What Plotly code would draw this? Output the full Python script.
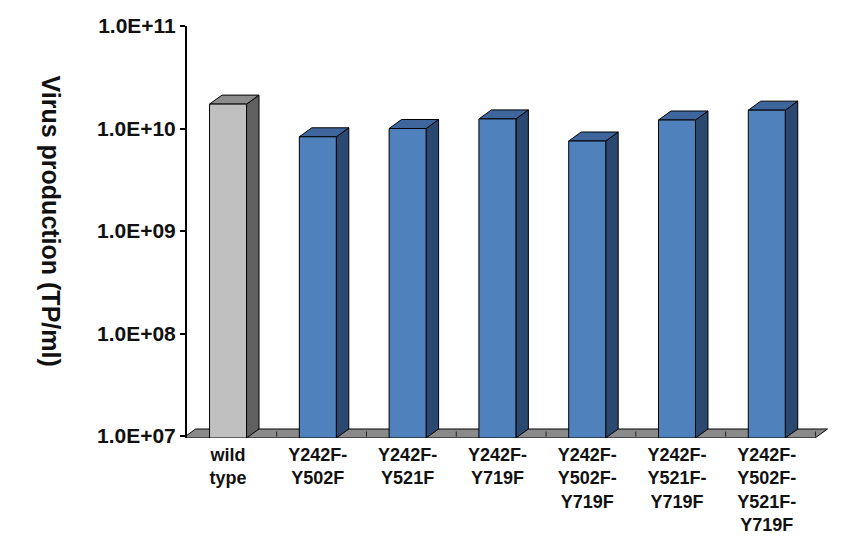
import plotly.graph_objects as go

# ---- data ----
categories = ["wild<br>type", "Y242F-<br>Y502F", "Y242F-<br>Y521F", "Y242F-<br>Y719F",
              "Y242F-<br>Y502F-<br>Y719F", "Y242F-<br>Y521F-<br>Y719F",
              "Y242F-<br>Y502F-<br>Y521F-<br>Y719F"]
values = [1.73e10, 8.3e9, 1.0e10, 1.24e10, 7.55e9, 1.21e10, 1.51e10]
tick_vals = [1e7, 1e8, 1e9, 1e10, 1e11]
tick_text = ["1.0E+07", "1.0E+08", "1.0E+09", "1.0E+10", "1.0E+11"]

front_colors = ["#C0C0C0"] + ["#4F81BD"] * 6
top_colors = ["#8C8C8C"] + ["#3E669C"] * 6
side_colors = ["#606060"] + ["#2B4870"] * 6

# ---- geometry (3-D look) ----
PLOT_H = 412
PX_PER_DEC = 102.5
Y_BOTTOM_LOG = 11 - PLOT_H / PX_PER_DEC
DX = 0.139            # depth offset in category units
DYL = 9 / PX_PER_DEC  # depth offset in decades
HALF = 0.206
base = 10 ** Y_BOTTOM_LOG
k = 10 ** DYL
FLOOR_L, FLOOR_R = -0.5, 6.537

fig = go.Figure()

def poly(xs, ys, fill, lw=1.0):
    fig.add_trace(go.Scatter(x=xs + [xs[0]], y=ys + [ys[0]], mode="lines", fill="toself",
                             fillcolor=fill, line=dict(color="black", width=lw),
                             hoverinfo="skip", showlegend=False))

# floor
poly([FLOOR_L, FLOOR_R, FLOOR_R + DX, FLOOR_L + DX],
     [base, base, base * k, base * k], "#8A8A8A")

# floor tick marks at category boundaries
tx, ty = [], []
for i in range(len(categories)):
    xb = i + 0.5 + DX * 0.3
    tx += [xb, xb, None]
    ty += [base * 10 ** (1.5 / PX_PER_DEC), base * 10 ** (6.5 / PX_PER_DEC), None]
fig.add_trace(go.Scatter(x=tx, y=ty, mode="lines", line=dict(color="#222", width=1),
                         hoverinfo="skip", showlegend=False))

# bars
for i, v in enumerate(values):
    x0, x1 = i - HALF, i + HALF
    poly([x1, x1, x1 + DX, x1 + DX], [base, v, v * k, base * k], side_colors[i])
    poly([x0, x1, x1 + DX, x0 + DX], [v, v, v * k, v * k], top_colors[i])
    poly([x0, x1, x1, x0], [base, base, v, v], front_colors[i])

fig.add_annotation(text="Virus production (TP/ml)", textangle=90,
                   xref="paper", yref="paper", x=-0.211, y=0.527,
                   xanchor="center", yanchor="middle", showarrow=False,
                   font=dict(family="Liberation Sans", size=25, color="#111", weight="bold"))

fig.update_layout(
    width=868, height=555,
    margin=dict(l=187, r=38, t=26, b=117),
    paper_bgcolor="white", plot_bgcolor="white",
    font=dict(family="Liberation Sans", color="#111"),
    xaxis=dict(range=[-0.457, 6.704], tickvals=list(range(len(categories))),
               ticktext=categories, showgrid=False, zeroline=False, showline=False,
               ticks="", automargin=False, ticklabelstandoff=4,
               tickfont=dict(size=18, weight="bold")),
    yaxis=dict(type="log", range=[Y_BOTTOM_LOG, 11], tickvals=tick_vals, ticktext=tick_text,
               showgrid=False, zeroline=False, showline=True, linecolor="black", linewidth=2,
               ticks="outside", ticklen=5, tickcolor="black", tickwidth=1.5, automargin=False,
               tickfont=dict(size=21, weight="bold")),
)

fig.write_html("out.html", config={"displayModeBar": False})

# remove the browser's default page margin so the figure sits at (0, 0)
with open("out.html", encoding="utf-8") as f:
    html = f.read()
html = html.replace("<head>", "<head><style>html,body{margin:0;padding:0;overflow:hidden;}</style>", 1)
with open("out.html", "w", encoding="utf-8") as f:
    f.write(html)
